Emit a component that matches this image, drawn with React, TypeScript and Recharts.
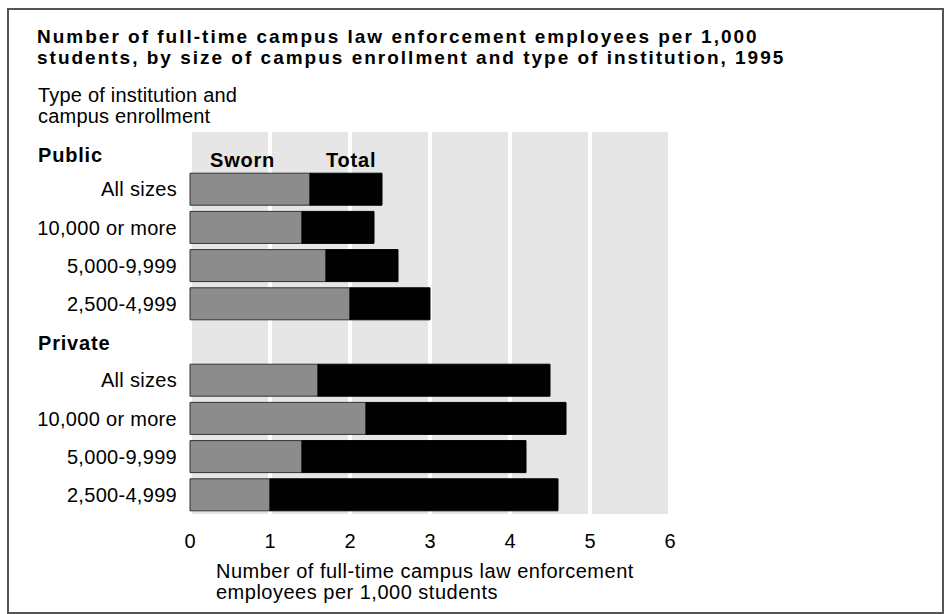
import { BarChart, Bar, XAxis, YAxis, CartesianGrid } from "recharts";

const groups = ["Public", "Private"];
const enrollment = ["All sizes", "10,000 or more", "5,000-9,999", "2,500-4,999"];
const publicSworn = [1.5, 1.4, 1.7, 2.0];
const publicTotal = [2.4, 2.3, 2.6, 3.0];
const privateSworn = [1.6, 2.2, 1.4, 1.0];
const privateTotal = [4.5, 4.7, 4.2, 4.6];
const xTicks = [0, 1, 2, 3, 4, 5, 6];

const titleLines = [
  "Number of full-time campus law enforcement employees per 1,000",
  "students, by size of campus enrollment and type of institution, 1995",
];
const yTitleLines = ["Type of institution and", "campus enrollment"];
const xTitleLines = ["Number of full-time campus law enforcement", "employees per 1,000 students"];

type Row = { id: string; label: string; header: boolean; sworn: number | null; rest: number | null };

const rows: Row[] = [];
groups.forEach((g, gi) => {
  const sworn = gi === 0 ? publicSworn : privateSworn;
  const total = gi === 0 ? publicTotal : privateTotal;
  rows.push({ id: g, label: g, header: true, sworn: null, rest: null });
  enrollment.forEach((e, i) =>
    rows.push({
      id: `${g}-${e}`,
      label: e,
      header: false,
      sworn: sworn[i],
      rest: +(total[i] - sworn[i]).toFixed(2),
    })
  );
});

const FONT = "'Liberation Sans', Arial, sans-serif";

function RowTick(props: any) {
  const { y, payload } = props;
  const row = rows.find((r) => r.id === payload.value);
  if (!row) return null;
  if (row.header) {
    const first = row.id === groups[0];
    return (
      <g fontFamily={FONT} fontSize={20} fontWeight="bold" fill="#000" letterSpacing={0.8}>
        <text x={38} y={y + (first ? 11 : 8)}>{row.label}</text>
        {first && (
          <>
            <text x={210} y={y + 16}>Sworn</text>
            <text x={326} y={y + 16}>Total</text>
          </>
        )}
      </g>
    );
  }
  return (
    <text x={177} y={y + 7} textAnchor="end" fontFamily={FONT} fontSize={20} fill="#000" letterSpacing={0.3}>
      {row.label}
    </text>
  );
}

export default function App() {
  return (
    <div style={{ position: "absolute", left: 0, top: 0, width: 946, height: 614, background: "#fff" }}>
      <div
        style={{
          position: "absolute",
          left: 7,
          top: 8,
          width: 937,
          height: 606,
          border: "2px solid #555",
          boxSizing: "border-box",
        }}
      />
      <div style={{ position: "absolute", left: 0, top: 0 }}>
        <BarChart
          width={946}
          height={614}
          data={rows}
          layout="vertical"
          margin={{ top: 132, right: 276, bottom: 60, left: 10 }}
          barSize={32}
        >
          <CartesianGrid horizontal={false} fill="#e6e6e6" fillOpacity={1} stroke="#fff" strokeWidth={4} />
          <XAxis
            type="number"
            domain={[0, 6]}
            ticks={xTicks}
            height={40}
            axisLine={false}
            tickLine={false}
            tickMargin={14}
            tick={{ fill: "#000", fontSize: 20, fontFamily: FONT }}
          />
          <YAxis
            type="category"
            dataKey="id"
            width={180}
            axisLine={false}
            tickLine={false}
            interval={0}
            tick={<RowTick />}
          />
          <Bar dataKey="sworn" stackId="a" fill="#8c8c8c" stroke="#333" strokeWidth={1} isAnimationActive={false} />
          <Bar dataKey="rest" stackId="a" fill="#000" stroke="#000" strokeWidth={1} isAnimationActive={false} />
        </BarChart>
      </div>
      <svg width={946} height={614} style={{ position: "absolute", left: 0, top: 0, pointerEvents: "none" }}>
        <g fontFamily={FONT} fontSize={19} fontWeight="bold" fill="#000" letterSpacing={2}>
          <text x={37} y={43}>{titleLines[0]}</text>
          <text x={37} y={64}>{titleLines[1]}</text>
        </g>
        <g fontFamily={FONT} fontSize={20} fill="#000" letterSpacing={0.2}>
          <text x={38} y={102}>{yTitleLines[0]}</text>
          <text x={38} y={123}>{yTitleLines[1]}</text>
        </g>
        <g fontFamily={FONT} fontSize={20} fill="#000" letterSpacing={0.5}>
          <text x={216} y={578}>{xTitleLines[0]}</text>
          <text x={216} y={599}>{xTitleLines[1]}</text>
        </g>
      </svg>
    </div>
  );
}
